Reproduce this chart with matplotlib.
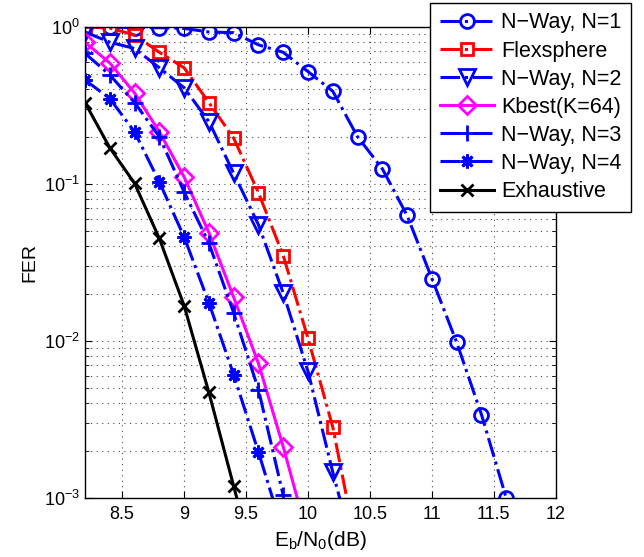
import numpy as np
import matplotlib
matplotlib.use('Agg')
import matplotlib.pyplot as plt
from matplotlib.ticker import LogLocator, NullFormatter

plt.rcParams['font.family'] = ['Liberation Sans', 'DejaVu Sans']
plt.rcParams['mathtext.fontset'] = 'custom'
plt.rcParams['mathtext.rm'] = 'Liberation Sans'
plt.rcParams['mathtext.it'] = 'Liberation Sans'

# Eb/N0 in dB
snr = [8.2, 8.4, 8.6, 8.8, 9.0, 9.2, 9.4, 9.6, 9.8, 10.0, 10.2, 10.4,
       10.6, 10.8, 11.0, 11.2, 11.4, 11.6]

fer_nway1 = [1.0, 1.0, 0.99, 0.99, 0.98, 0.93, 0.92, 0.77, 0.69, 0.52, 0.39,
             0.20, 0.125, 0.063, 0.025, 0.0098, 0.0034, 0.001]
fer_flex = [1.0, 0.985, 0.89, 0.69, 0.55, 0.33, 0.196, 0.088, 0.035, 0.0104,
            0.00283, 0.00045]
fer_nway2 = [0.93, 0.80, 0.73, 0.55, 0.41, 0.25, 0.117, 0.055, 0.0202, 0.0064,
             0.00146, 0.00037]
fer_kbest = [0.80, 0.59, 0.38, 0.215, 0.111, 0.049, 0.019, 0.0072, 0.00212,
             0.00056]
fer_nway3 = [0.68, 0.495, 0.33, 0.20, 0.089, 0.042, 0.0151, 0.0049, 0.00104]
fer_nway4 = [0.46, 0.35, 0.215, 0.103, 0.046, 0.0175, 0.0061, 0.00196, 0.0006]
fer_exh = [0.33, 0.17, 0.101, 0.045, 0.0168, 0.0047, 0.00119, 0.0003]

labels = ['N\u2212Way, N=1', 'Flexsphere', 'N\u2212Way, N=2', 'Kbest(K=64)',
          'N\u2212Way, N=3', 'N\u2212Way, N=4', 'Exhaustive']

fig = plt.figure(figsize=(6.44, 5.57), dpi=100)
ax = fig.add_axes([0.132, 0.106, 0.731, 0.8455])

blue = (0, 0, 1)
kw = dict(linewidth=2.2, markeredgewidth=2.0, clip_on=True)
series = [
    (fer_nway1, blue, '-.', 'o', 10, 'none'),
    (fer_flex, 'red', '-.', 's', 9, 'none'),
    (fer_nway2, blue, '-.', 'v', 11, 'none'),
    (fer_kbest, 'magenta', '-', 'D', 9, 'none'),
    (fer_nway3, blue, '-.', '+', 11, 'none'),
    (fer_nway4, blue, '-.', (8, 2, 0), 10, blue),
    (fer_exh, 'black', '-', 'x', 8, 'none'),
]
for (vals, col, ls, mk, ms, mfc), lab in zip(series, labels):
    ax.semilogy(snr[:len(vals)], vals, color=col, linestyle=ls, marker=mk,
                markersize=ms, markerfacecolor=mfc, markeredgecolor=col,
                label=lab, **kw)

ax.set_xlim(8.2, 12)
ax.set_ylim(1e-3, 1)
ax.set_xticks([8.5, 9, 9.5, 10, 10.5, 11, 11.5, 12])
ax.set_xticklabels(['8.5', '9', '9.5', '10', '10.5', '11', '11.5', '12'])
ax.yaxis.set_minor_locator(LogLocator(base=10, subs=np.arange(2, 10)))
ax.yaxis.set_minor_formatter(NullFormatter())
ax.tick_params(which='both', direction='in', top=True, right=True, labelsize=13)
ax.tick_params(axis='x', pad=6)
ax.tick_params(which='major', length=5)
ax.tick_params(which='minor', length=3)
ax.grid(True, which='major', linestyle=(0, (1, 4)), color='black', linewidth=0.8, alpha=0.7)
ax.grid(True, which='minor', axis='y', linestyle=(0, (1, 4)), color='black', linewidth=0.8, alpha=0.7)
for s in ax.spines.values():
    s.set_linewidth(1.0)

ax.set_xlabel('E$_\\mathregular{b}$/N$_\\mathregular{0}$(dB)', fontsize=15, labelpad=4)
ax.set_ylabel('FER', fontsize=14)

leg = ax.legend(loc='upper right', bbox_to_anchor=(0.98, 0.995),
                bbox_transform=fig.transFigure, fontsize=15.5, frameon=True,
                fancybox=False, edgecolor='black', framealpha=1,
                borderaxespad=0, labelspacing=0.33, handlelength=2.5,
                handletextpad=0.35, borderpad=0.45)
leg.get_frame().set_linewidth(1.0)

fig.savefig('out.png', dpi=100)
